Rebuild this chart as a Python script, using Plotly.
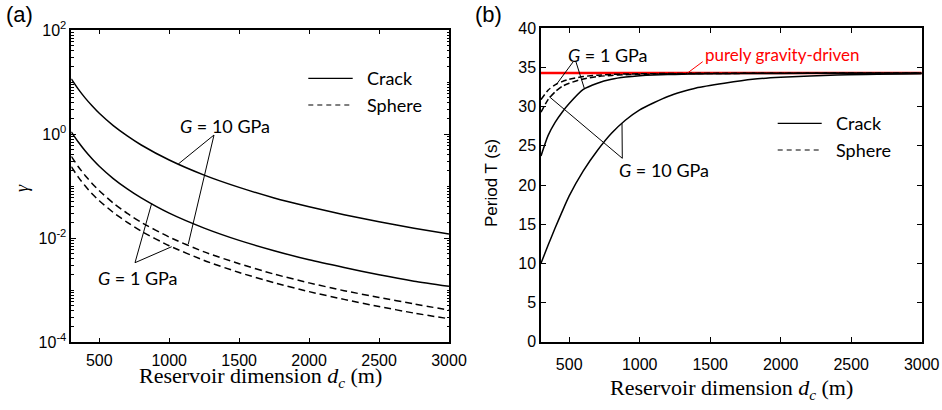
import plotly.graph_objects as go

# ---------------- data ----------------
# Panel (a): gamma vs reservoir dimension (log y)
D_A = [300, 350, 400, 450, 500, 600, 700, 800, 1000, 1250, 1500, 1750, 2000, 2250, 2500, 2750, 3000]
GAMMA_CRACK_G10 = [11.5, 7.3, 4.9, 3.45, 2.5, 1.45, 0.92, 0.615, 0.316, 0.162, 0.094, 0.059, 0.040, 0.028, 0.0205, 0.0154, 0.0119]
GAMMA_CRACK_G1 = [1.1, 0.70, 0.47, 0.33, 0.24, 0.139, 0.088, 0.059, 0.030, 0.0155, 0.0090, 0.0057, 0.0038, 0.0027, 0.00196, 0.00148, 0.00118]
GAMMA_SPHERE_G10 = [0.37, 0.235, 0.158, 0.111, 0.081, 0.047, 0.0297, 0.020, 0.0104, 0.0054, 0.0032, 0.00202, 0.00137, 0.00097, 0.00072, 0.00054, 0.00041]
GAMMA_SPHERE_G1 = [0.235, 0.148, 0.100, 0.070, 0.052, 0.031, 0.020, 0.0135, 0.0071, 0.0037, 0.00217, 0.00138, 0.00093, 0.00066, 0.00048, 0.00036, 0.00028]

# Panel (b): period vs reservoir dimension
D_B = [300, 350, 400, 450, 500, 600, 700, 800, 900, 1000, 1100, 1200, 1300, 1400, 1600, 1800, 2000, 2400, 3000]
T_CRACK_G10 = [10.0, 12.3, 14.5, 16.6, 18.6, 21.8, 24.4, 26.6, 28.3, 29.6, 30.5, 31.3, 31.9, 32.4, 33.0, 33.5, 33.75, 34.05, 34.2]
T_CRACK_G1 = [23.7, 26.3, 28.0, 29.3, 30.4, 32.2, 33.0, 33.5, 33.78, 33.95, 34.05, 34.1, 34.15, 34.18, 34.22, 34.24, 34.25, 34.27, 34.28]
T_SPHERE_G10 = [29.3, 30.9, 31.9, 32.6, 33.0, 33.55, 33.85, 34.0, 34.08, 34.13, 34.17, 34.2, 34.22, 34.23, 34.25, 34.26, 34.27, 34.28, 34.29]
T_SPHERE_G1 = [30.9, 32.1, 32.8, 33.2, 33.5, 33.85, 34.02, 34.12, 34.17, 34.2, 34.22, 34.24, 34.25, 34.26, 34.27, 34.28, 34.28, 34.29, 34.29]
T_GRAVITY = 34.3

X_TICKS = [500, 1000, 1500, 2000, 2500, 3000]
Y_TICKS_A = [1e-4, 1e-2, 1, 100]
Y_TICKTEXT_A = ["10<sup>-4</sup>", "10<sup>-2</sup>", "10<sup>0</sup>", "10<sup>2</sup>"]
Y_TICKS_B = [0, 5, 10, 15, 20, 25, 30, 35, 40]

# ---------------- figure ----------------
W, H = 942, 410
SANS = "Liberation Sans, Arial, sans-serif"
SERIF = "Liberation Serif, Times New Roman, serif"
LABEL = "Lato, Open Sans, sans-serif"


def px(x):
    return x / W


def py(y):
    return 1 - y / H


fig = go.Figure()

solid = dict(color="black", width=1.5)
dashed = dict(color="black", width=1.5, dash="7px,4px")

for ys, ln in [(GAMMA_CRACK_G10, solid), (GAMMA_CRACK_G1, solid),
               (GAMMA_SPHERE_G10, dashed), (GAMMA_SPHERE_G1, dashed)]:
    fig.add_trace(go.Scatter(x=D_A, y=ys, mode="lines", line=dict(shape="spline", smoothing=0.6, **ln),
                             xaxis="x", yaxis="y", showlegend=False, hoverinfo="skip"))

# invisible companion trace carrying the minor-tick overlay axis of panel (a)
fig.add_trace(go.Scatter(x=D_A, y=GAMMA_CRACK_G1, mode="lines", line=dict(width=0),
                         opacity=0, xaxis="x", yaxis="y3", showlegend=False, hoverinfo="skip"))

fig.add_trace(go.Scatter(x=[D_B[0], D_B[-1]], y=[T_GRAVITY, T_GRAVITY], mode="lines",
                         line=dict(color="#ff0000", width=2.5), xaxis="x2", yaxis="y2",
                         showlegend=False, hoverinfo="skip"))
for ys, ln in [(T_CRACK_G10, solid), (T_CRACK_G1, solid),
               (T_SPHERE_G10, dict(color="black", width=1.5, dash="6px,3px")),
               (T_SPHERE_G1, dict(color="black", width=1.5, dash="6px,3px"))]:
    fig.add_trace(go.Scatter(x=D_B, y=ys, mode="lines", line=dict(shape="spline", smoothing=0.6, **ln),
                             xaxis="x2", yaxis="y2", showlegend=False, hoverinfo="skip"))

# minor ticks for log axis
minor_a = []
for e in range(-4, 2):
    for m in range(1, 10):
        v = m * 10 ** e
        if v not in Y_TICKS_A and v < 100:
            minor_a.append(v)

axis_common = dict(showline=True, linecolor="black", linewidth=1.5, mirror="ticks",
                   ticks="inside", tickcolor="black", tickwidth=1.2, showgrid=False,
                   zeroline=False, automargin=False,
                   tickfont=dict(family=SANS, size=16, color="black"))

DOM_A_Y = [py(342), py(30)]

fig.update_layout(
    template="none",
    width=W, height=H, autosize=False,
    margin=dict(l=0, r=0, t=0, b=0, pad=0),
    paper_bgcolor="white", plot_bgcolor="white",
    xaxis=dict(domain=[px(71.3), px(449)], range=[300, 3000], tickmode="array", tickvals=X_TICKS,
               ticklen=4, anchor="y", ticklabelstandoff=3, **axis_common),
    yaxis=dict(domain=DOM_A_Y, type="log", range=[-4, 2], tickmode="array",
               tickvals=Y_TICKS_A, ticktext=Y_TICKTEXT_A, ticklen=5, anchor="x",
               **axis_common),
    yaxis3=dict(domain=DOM_A_Y, type="log", range=[-4, 2], tickmode="array", tickvals=minor_a,
                ticks="inside", ticklen=2.5, tickwidth=1, tickcolor="black", showticklabels=False,
                showline=True, linecolor="black", linewidth=1.5, mirror="ticks", showgrid=False,
                zeroline=False, automargin=False, overlaying="y", anchor="x", side="left"),
    xaxis2=dict(domain=[px(541), px(921.7)], range=[300, 3000], tickmode="array", tickvals=X_TICKS,
                ticklen=5, anchor="y2", ticklabelstandoff=7, **axis_common),
    yaxis2=dict(domain=[py(341.6), py(28.4)], range=[0, 40], tickmode="array", tickvals=Y_TICKS_B,
                ticklen=5, anchor="x2", **axis_common),
)

ann = []
shapes = []


def text(x, y, s, size, family, color="black", angle=0, xanchor="center"):
    ann.append(dict(x=px(x), y=py(y), xref="paper", yref="paper", text=s, showarrow=False,
                    font=dict(family=family, size=size, color=color), xanchor=xanchor,
                    yanchor="middle", textangle=angle))


def seg(x0, y0, x1, y1, color="black", width=1, dash=None):
    line = dict(color=color, width=width)
    if dash:
        line["dash"] = dash
    shapes.append(dict(type="line", xref="paper", yref="paper", x0=px(x0), y0=py(y0),
                       x1=px(x1), y1=py(y1), line=line))


# panel labels
text(19, 14, "(a)", 22, SANS)
text(488, 14, "(b)", 22, SANS)

# axis titles
text(260, 377, "Reservoir dimension <i>d</i><sub><i>c</i></sub> (m)", 22, SERIF)
text(731.5, 389, "Reservoir dimension <i>d</i><sub><i>c</i></sub> (m)", 22, SERIF)
text(22, 188, "<i>γ</i>", 18, SERIF, angle=-90)
text(492, 183, "Period T (s)", 17, SANS, angle=-90)

# legends
seg(308.3, 78.3, 352.7, 78.3, width=1.2)
seg(308.3, 105, 352.7, 105, width=1.2, dash="5px,4px")
text(365, 78.3, "Crack", 18, LABEL, xanchor="left")
text(365, 105, "Sphere", 18, LABEL, xanchor="left")

seg(777.7, 123.3, 821.7, 123.3, width=1.2)
seg(777.7, 150, 821.7, 150, width=1.2, dash="5px,4px")
text(834, 123.3, "Crack", 18, LABEL, xanchor="left")
text(834, 150, "Sphere", 18, LABEL, xanchor="left")

# panel (a) annotations
text(224.5, 126, "<i>G</i> = 10 GPa", 18, LABEL)
seg(214, 135, 178.3, 164)
seg(214, 135, 188.3, 244)
text(138, 277.7, "<i>G</i> = 1 GPa", 18, LABEL)
seg(135, 262.7, 151.7, 203.3)
seg(135, 262.7, 171.7, 246.7)

# panel (b) annotations
text(782.5, 54, "purely gravity-driven", 17, LABEL, color="#ff0000")
seg(702.7, 61.7, 687.5, 73, color="#ff0000")
text(607.5, 55, "<i>G</i> = 1 GPa", 18, LABEL)
seg(573, 62, 556, 85)
seg(576, 62, 584.3, 88.3)
text(663.5, 170, "<i>G</i> = 10 GPa", 18, LABEL)
seg(622.3, 158.3, 549.3, 96.7)
seg(622.3, 158.3, 622, 123.3)

fig.update_layout(annotations=ann, shapes=shapes)
fig.write_html("out.html")
